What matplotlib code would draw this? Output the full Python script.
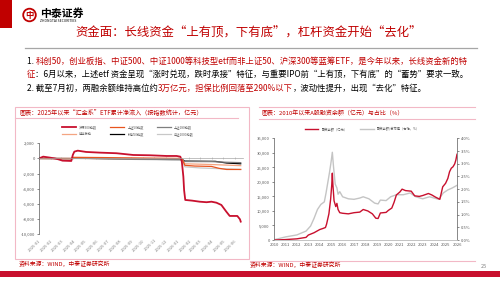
import matplotlib
matplotlib.use('Agg')
import matplotlib.pyplot as plt
import matplotlib.ticker as mticker
from matplotlib.patches import Rectangle, Circle
import pandas as pd

plt.rcParams['font.family'] = ['Noto Sans CJK SC', 'DejaVu Sans']
plt.rcParams['axes.unicode_minus'] = False

RED = '#C00000'
CRIMSON = '#C8102E'
PINK = '#F2B8C6'

# ---- left chart: cumulative net inflow of "Huijin" ETFs by index (100m yuan)
month_labels = ['2025-01', '2025-02', '2025-03', '2025-04', '2025-05', '2025-06',
                '2025-07', '2025-08', '2025-09', '2025-10', '2025-11', '2025-12',
                '2026-01', '2026-02', '2026-03', '2026-04', '2026-05', '2026-06']

hs300_dates = ['2025-01-01', '2025-01-12', '2025-01-30', '2025-02-12', '2025-02-20',
               '2025-03-04', '2025-03-27', '2025-03-31', '2025-04-04', '2025-04-13',
               '2025-05-05', '2025-06-10', '2025-07-24', '2025-09-06', '2025-10-20',
               '2025-12-03', '2025-12-29', '2026-01-08', '2026-01-12', '2026-01-16',
               '2026-01-18', '2026-01-21', '2026-02-08', '2026-02-28', '2026-03-18',
               '2026-03-31', '2026-04-13', '2026-04-26', '2026-05-09', '2026-05-18',
               '2026-06-01', '2026-06-07', '2026-06-14', '2026-06-16']
hs300_vals = [0, 240, 110, 0, -100, -290, -330, 460, 900, 1030, 860, 770, 690, 460,
              420, 330, 330, 240, -420, -2400, -4200, -5470, -5560, -5700, -5770,
              -5700, -5830, -6130, -7010, -7580, -7580, -7580, -8020, -8330]

sz50_dates = ['2025-01-01', '2025-03-28', '2025-03-31', '2025-06-15', '2025-10-15',
              '2026-01-12', '2026-01-20', '2026-02-15', '2026-03-31', '2026-04-20',
              '2026-05-10', '2026-06-16']
sz50_vals = [0, -30, 150, 120, 50, 0, -900, -1000, -1050, -1300, -1450, -1450]

cyb_dates = ['2025-01-01', '2025-03-31', '2025-10-15', '2026-01-12', '2026-01-20',
             '2026-04-01', '2026-06-16']
cyb_vals = [0, 20, -50, -80, -700, -800, -950]

sz180_dates = ['2025-01-01', '2025-03-28', '2025-04-01', '2025-12-15', '2026-01-12',
               '2026-01-20', '2026-04-01', '2026-05-10', '2026-06-16']
sz180_vals = [0, -20, 50, -150, -160, -400, -420, -500, -550]

kc50_dates = ['2025-01-01', '2025-03-28', '2025-04-01', '2025-12-15', '2026-01-12',
              '2026-01-20', '2026-04-10', '2026-05-10', '2026-06-16']
kc50_vals = [0, -10, 30, -100, -110, -350, -380, -600, -700]

zz1000_dates = ['2025-01-01', '2025-04-01', '2025-12-15', '2026-01-12', '2026-01-20',
                '2026-03-01', '2026-06-16']
zz1000_vals = [0, 0, -200, -220, -1100, -1250, -1450]

# ---- right chart: margin financing balance (100m yuan) and share of market cap (%)
year_ticks = [2010, 2011, 2012, 2013, 2014, 2015, 2016, 2017, 2018,
              2019, 2020, 2021, 2022, 2023, 2024, 2025, 2026]

margin_years = [2010.1, 2011.0, 2012.0, 2012.8, 2013.0, 2013.5, 2014.0, 2014.3, 2014.5,
                2014.6, 2014.8, 2014.95, 2015.05, 2015.1, 2015.15, 2015.25, 2015.4,
                2015.5, 2015.6, 2015.75, 2016.0, 2016.5, 2017.0, 2017.5, 2017.8,
                2018.2, 2018.6, 2018.9, 2019.1, 2019.3, 2019.8, 2020.0, 2020.3,
                2020.5, 2020.7, 2021.0, 2021.2, 2021.5, 2022.0, 2022.3, 2022.7,
                2023.0, 2023.5, 2023.8, 2024.1, 2024.35, 2024.5, 2024.75, 2025.0,
                2025.2, 2025.35, 2025.5, 2025.65, 2025.8, 2025.9, 2026.0]
margin_vals = [0, 150, 400, 900, 1700, 2500, 3600, 4000, 4300, 5500, 9000, 14000,
               19000, 23000, 19000, 13500, 11500, 12600, 10500, 9400, 9200, 9000,
               9400, 9600, 10500, 10000, 9000, 7500, 7400, 9300, 9500, 10200, 11000,
               13000, 15500, 16500, 17500, 17000, 16800, 15200, 15000, 15300, 16000,
               15500, 14800, 14300, 14000, 18300, 19500, 21200, 23500, 24700, 25200,
               26200, 27500, 29500]

ratio_years = [2010.1, 2011.0, 2012.0, 2012.8, 2013.2, 2013.5, 2013.8, 2014.1, 2014.4,
               2014.55, 2014.7, 2014.85, 2015.0, 2015.1, 2015.2, 2015.35, 2015.5,
               2015.6, 2015.75, 2016.0, 2016.5, 2017.0, 2017.5, 2017.8, 2018.3,
               2018.8, 2019.1, 2019.3, 2019.8, 2020.2, 2020.7, 2021.3, 2021.9,
               2022.4, 2023.0, 2023.6, 2024.0, 2024.4, 2024.8, 2025.2, 2025.6, 2026.0]
ratio_vals = [0.02, 0.12, 0.2, 0.35, 0.55, 0.85, 1.2, 1.4, 1.5, 1.85, 2.25, 2.65, 3.1,
              3.45, 2.9, 2.2, 2.05, 1.8, 1.9, 1.7, 1.62, 1.6, 1.65, 1.7, 1.62, 1.45,
              1.42, 1.57, 1.55, 1.7, 1.78, 1.78, 1.85, 1.7, 1.62, 1.7, 1.65, 1.6,
              1.85, 1.97, 2.05, 2.15]

W, H = 500, 281


def box(x0, y0, x1, y1):
    # pixel box (top-left origin) -> figure fraction rect
    return [x0 / W, 1 - y1 / H, (x1 - x0) / W, (y1 - y0) / H]


def rich(ax, x, y, parts, size):
    t = ax.text(x, y, parts[0][0], color=parts[0][1], fontsize=size, va='center', ha='left')
    for s, c in parts[1:]:
        t = ax.annotate(s, xy=(1, 0), xycoords=t, va='bottom', ha='left', color=c, fontsize=size)
    return t


fig = plt.figure(figsize=(5, 2.81), dpi=100)
fig.patch.set_facecolor('white')

# background layer in pixel coordinates
bg = fig.add_axes([0, 0, 1, 1], zorder=0)
bg.set_xlim(0, W)
bg.set_ylim(H, 0)
bg.axis('off')

bg.add_patch(Rectangle((0, 0), 12, 28, color=RED, lw=0))
bg.add_patch(Circle((29.5, 15), 6.3, fill=False, ec=RED, lw=1.3))
bg.text(29.5, 15.3, '中', color=RED, fontsize=6, ha='center', va='center', fontweight='bold')
bg.text(40, 13.5, '中泰证券', fontsize=7.8, fontweight='bold', color='black', va='center')
bg.text(40.5, 20.5, 'ZHONGTAI SECURITIES', fontsize=2.4, color='black', va='center')

bg.text(75, 33, '资金面：长线资金“上有顶，下有底”，杠杆资金开始“去化”',
        fontsize=8.9, color=RED, va='center', ha='left')
bg.plot([25, 477], [47.5, 47.5], color='#A6A6A6', lw=0.9)

fs = 6.0
rich(bg, 27, 61, [('1. ', 'black'),
                  ('科创50，创业板指、中证500、中证1000等科技型etf而非上证50、沪深300等蓝筹ETF，是今年以来，长线资金新的特', RED)], fs)
rich(bg, 27, 74.5, [('征', RED),
                    ('：6月以来，上述etf 资金呈现“涨时兑现，跌时承接”特征，与重要IPO前“上有顶，下有底”的“蓄势”要求一致。', 'black')], fs)
rich(bg, 27, 88.5, [('2. 截至7月初，两融余额维持高位约', 'black'),
                    ('3万亿元，担保比例回落至290%以下', RED),
                    ('，波动性提升，出现“去化”特征。', 'black')], fs)

# left chart frame
bg.add_patch(Rectangle((15, 106.5), 234, 152, fill=False, ec=PINK, lw=0.8))
bg.plot([15, 238], [117.5, 117.5], color=PINK, lw=0.8)
bg.text(20, 112.5, '图表：2025年以来“汇金系”ETF累计净流入（按指数统计，亿元）',
        fontsize=4.4, color=RED, va='center', style='italic')
bg.text(19, 263.5, '资料来源：WIND，中泰证券研究所', fontsize=4.2, color=RED, va='center')

# right chart frame
bg.plot([259, 475], [107, 107], color=PINK, lw=0.8)
bg.plot([259, 475], [118.5, 118.5], color=PINK, lw=0.8)
bg.plot([250, 475], [260.5, 260.5], color=PINK, lw=0.8)
bg.text(262, 113, '图表：2010年以来A股融资余额（亿元）与占比（%）',
        fontsize=4.3, color=RED, va='center', style='italic')
bg.text(250, 264.5, '资料来源：WIND，中泰证券研究所', fontsize=4.2, color=RED, va='center')

bg.add_patch(Rectangle((0, 271), W, 6, color=CRIMSON, lw=0))
bg.text(484, 267, '25', fontsize=4, color='#7F7F7F', ha='center', va='center')

# ---- left chart
axl = fig.add_axes(box(39, 143.3, 243, 234.3), zorder=2)
axl.patch.set_alpha(0)
series = [
    ('沪深300指数', hs300_dates, hs300_vals, CRIMSON, 1.3),
    ('上证50指数', sz50_dates, sz50_vals, '#E8541E', 0.9),
    ('上证180指数', sz180_dates, sz180_vals, '#7F7F7F', 0.9),
    ('创业板指', cyb_dates, cyb_vals, '#F4A582', 0.9),
    ('科创50指数', kc50_dates, kc50_vals, 'black', 0.9),
    ('中证1000指数', zz1000_dates, zz1000_vals, '#C8C8C8', 0.9),
]
lines = {}
for name, d, v, c, lw in series[::-1]:
    lines[name] = axl.plot(pd.to_datetime(d), v, color=c, lw=lw, label=name)[0]

month_pos = pd.to_datetime([m + '-01' for m in month_labels])
axl.set_xlim(pd.Timestamp('2025-01-01'), pd.Timestamp('2026-06-22'))
axl.set_ylim(-10000, 2000)
axl.set_yticks(range(-10000, 2001, 2000))
axl.yaxis.set_major_formatter(mticker.FuncFormatter(lambda v, p: f'{v:,.0f}'))
axl.tick_params(axis='y', labelsize=3, colors='#595959', length=1.5, width=0.5, pad=1.5)
for s in ['top', 'right']:
    axl.spines[s].set_visible(False)
axl.spines['left'].set_color('#595959')
axl.spines['left'].set_linewidth(0.5)
axl.spines['bottom'].set_position(('data', 0))
axl.spines['bottom'].set_color('#A6A6A6')
axl.spines['bottom'].set_linewidth(0.5)
axl.set_xticks(month_pos)
axl.tick_params(axis='x', labelbottom=False, direction='inout', length=2, width=0.4, colors='#A6A6A6')
sec = axl.secondary_xaxis(0)
sec.set_xticks(month_pos)
sec.set_xticklabels(month_labels, rotation=45, ha='right', rotation_mode='anchor')
sec.tick_params(length=0, labelsize=3, colors='#7F7F7F', pad=3)
sec.spines['bottom'].set_visible(False)

order = ['沪深300指数', '创业板指', '上证50指数', '科创50指数', '上证180指数', '中证1000指数']
fig.legend([lines[n] for n in order], order, ncol=3, loc='center',
           bbox_to_anchor=(128 / W, 1 - 130.5 / H), frameon=False, fontsize=2.3,
           handlelength=4.4, handletextpad=1.0, columnspacing=4.0, labelspacing=0.9,
           labelcolor='#595959')

# ---- right chart
axr = fig.add_axes(box(274, 138.3, 457, 240), zorder=2)
axr.patch.set_alpha(0)
axr2 = axr.twinx()
l2, = axr2.plot(ratio_years, ratio_vals, color='#C4C4C4', lw=1.0, label='融资余额/总市值（右轴，%）')
l1, = axr.plot(margin_years, margin_vals, color=CRIMSON, lw=1.0, label='融资余额（亿元）')
axr.set_zorder(3)
axr2.set_zorder(2)
axr.set_xlim(2010, 2026)
axr.set_ylim(0, 35000)
axr2.set_ylim(0, 4.0)
axr.set_yticks(range(0, 35001, 5000))
axr.yaxis.set_major_formatter(mticker.FuncFormatter(lambda v, p: f'{v:,.0f}'))
axr2.set_yticks([0, 0.5, 1.0, 1.5, 2.0, 2.5, 3.0, 3.5, 4.0])
axr2.yaxis.set_major_formatter(mticker.FuncFormatter(lambda v, p: f'{v:.1f}%'))
axr.set_xticks(year_ticks)
axr.set_xticklabels([str(y) for y in year_ticks])
for a in (axr, axr2):
    a.spines['top'].set_visible(False)
    a.spines['bottom'].set_color('#BFBFBF')
    a.spines['bottom'].set_linewidth(0.5)
    a.spines['left'].set_color('#595959')
    a.spines['left'].set_linewidth(0.5)
    a.spines['right'].set_color('#595959')
    a.spines['right'].set_linewidth(0.5)
    a.tick_params(labelsize=3, colors='#595959', length=1.5, width=0.5, pad=1.5)
axr.spines['right'].set_visible(False)
axr2.spines['left'].set_visible(False)
axr.tick_params(axis='x', length=0, pad=2)

fig.legend([l1, l2], ['融资余额（亿元）', '融资余额/总市值（右轴，%）'], ncol=2, loc='center',
           bbox_to_anchor=(362.5 / W, 1 - 129 / H), frameon=False, fontsize=2.3,
           handlelength=4.3, handletextpad=1.0, columnspacing=4.0, labelcolor='#595959')

fig.savefig('out.png', dpi=100, facecolor='white')
